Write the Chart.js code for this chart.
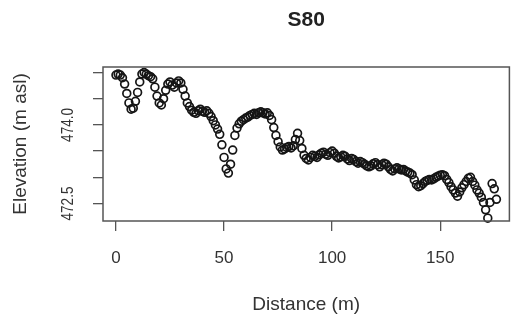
<!DOCTYPE html>
<html>
<head>
<meta charset="utf-8">
<script src="https://cdn.jsdelivr.net/npm/chart.js@4.4.0/dist/chart.umd.min.js"></script>
<style>
html, body { margin: 0; padding: 0; background: #fff; }
</style>
</head>
<body>
<canvas id="chart" width="515" height="324"></canvas>
<script>
// survey profile S80
const distance = [
  0, 1, 2, 3, 4, 5, 6, 7, 8, 9, 10, 11, 12, 13, 14, 15, 16, 17, 18, 19,
  20, 21, 22, 23, 24, 25, 26, 27, 28, 29, 30, 31, 32, 33, 34, 35, 36, 37, 38, 39,
  40, 41, 42, 43, 44, 45, 46, 47, 48, 49, 50, 51, 52, 53, 54, 55, 56, 57, 58, 59,
  60, 61, 62, 63, 64, 65, 66, 67, 68, 69, 70, 71, 72, 73, 74, 75, 76, 77, 78, 79,
  80, 81, 82, 83, 84, 85, 86, 87, 88, 89, 90, 91, 92, 93, 94, 95, 96, 97, 98, 99,
  100, 101, 102, 103, 104, 105, 106, 107, 108, 109, 110, 111, 112, 113, 114, 115, 116, 117, 118, 119,
  120, 121, 122, 123, 124, 125, 126, 127, 128, 129, 130, 131, 132, 133, 134, 135, 136, 137, 138, 139,
  140, 141, 142, 143, 144, 145, 146, 147, 148, 149, 150, 151, 152, 153, 154, 155, 156, 157, 158, 159,
  160, 161, 162, 163, 164, 165, 166, 167, 168, 169, 170, 171, 172, 173, 174, 175, 176
];
const elevation = [
  474.95, 474.97, 474.95, 474.90, 474.78, 474.60, 474.42, 474.30, 474.32, 474.45,
  474.62, 474.82, 474.97, 475.00, 474.97, 474.94, 474.92, 474.88, 474.72, 474.55,
  474.42, 474.38, 474.50, 474.66, 474.78, 474.82, 474.76, 474.72, 474.80, 474.84,
  474.80, 474.68, 474.55, 474.42, 474.35, 474.28, 474.24, 474.22, 474.27, 474.30,
  474.26, 474.24, 474.27, 474.22, 474.16, 474.08, 474.00, 473.92, 473.82, 473.62,
  473.38, 473.16, 473.08, 473.25, 473.52, 473.80, 473.94, 474.02, 474.07, 474.10,
  474.13, 474.15, 474.18, 474.20, 474.22, 474.20, 474.23, 474.25, 474.23, 474.21,
  474.23, 474.18, 474.10, 473.95, 473.80, 473.68, 473.58, 473.52, 473.54, 473.57,
  473.59, 473.56, 473.60, 473.72, 473.84, 473.70, 473.55, 473.42, 473.36, 473.33,
  473.38, 473.42, 473.40, 473.38, 473.43, 473.46, 473.48, 473.44, 473.42, 473.47,
  473.50, 473.46, 473.40, 473.37, 473.39, 473.42, 473.40, 473.35, 473.32, 473.36,
  473.34, 473.30, 473.27, 473.30, 473.28, 473.25, 473.22, 473.20, 473.22, 473.26,
  473.28, 473.24, 473.20, 473.24, 473.27, 473.25, 473.20, 473.15, 473.12, 473.16,
  473.18, 473.16, 473.14, 473.15, 473.12, 473.10, 473.08, 473.05, 472.95, 472.86,
  472.82, 472.84, 472.88, 472.92, 472.94, 472.96, 472.95, 472.97, 473.00, 473.02,
  473.04, 473.05, 473.03, 472.96, 472.90, 472.82, 472.76, 472.70, 472.64, 472.72,
  472.80, 472.86, 472.92, 472.98, 473.00, 472.92, 472.85, 472.76, 472.70, 472.62,
  472.52, 472.38, 472.22, 472.52, 472.88, 472.78, 472.58
];
const xTicks = [0, 50, 100, 150];
const yTicks = [472.5, 473.0, 473.5, 474.0, 474.5, 475.0];
const yLabels = [472.5, 474.0]; // R drops the others (overlap)

const FONT = "'Liberation Sans', Arial, Helvetica, sans-serif";

// box, title and the upright y labels (R style)
const rPlot = {
    id: 'rPlot',
    afterDraw(chart) {
        const ctx = chart.ctx;
        const a = chart.chartArea;
        ctx.save();
        ctx.strokeStyle = '#555';
        ctx.lineWidth = 1.5;
        ctx.strokeRect(a.left, a.top, a.right - a.left, a.bottom - a.top);

        ctx.fillStyle = '#222';
        ctx.font = 'bold 21px ' + FONT;
        ctx.textAlign = 'center';
        ctx.textBaseline = 'alphabetic';
        ctx.fillText('S80', (a.left + a.right) / 2, 26);

        const ys = chart.scales.y;
        ctx.fillStyle = '#333';
        ctx.font = '17px ' + FONT;
        ctx.textBaseline = 'middle';
        yLabels.forEach(v => {
            const py = ys.getPixelForValue(v);
            ctx.save();
            ctx.translate(68, py);
            ctx.rotate(-Math.PI / 2);
            ctx.scale(0.8, 1);
            ctx.fillText(v.toFixed(1), 0, 0);
            ctx.restore();
        });
        ctx.restore();
    }
};

const ctx = document.getElementById('chart').getContext('2d');
const myChart = new Chart(ctx, {
    type: 'scatter',
    data: {
        datasets: [{
            data: distance.map((d, i) => ({ x: d, y: elevation[i] })),
            showLine: false,
            pointStyle: 'circle',
            pointRadius: 3.9,
            pointBorderWidth: 1.7,
            pointBorderColor: '#151515',
            pointBackgroundColor: 'rgba(0,0,0,0)',
            pointHoverRadius: 3.9,
            clip: false
        }]
    },
    options: {
        responsive: false,
        animation: false,
        devicePixelRatio: 1,
        layout: { padding: { top: 67, right: 3, left: 0, bottom: 0 } },
        plugins: {
            legend: { display: false },
            tooltip: { enabled: false }
        },
        scales: {
            x: {
                type: 'linear',
                min: -6,
                max: 182,
                afterBuildTicks: s => { s.ticks = xTicks.map(v => ({ value: v })); },
                afterFit: s => { s.height = 103; },
                ticks: {
                    font: { family: FONT, size: 17 },
                    color: '#333',
                    padding: 17,
                    maxRotation: 0,
                    autoSkip: false
                },
                grid: { drawOnChartArea: false, tickLength: 10, color: '#555', lineWidth: 1.3 },
                border: { display: false },
                title: {
                    display: true,
                    text: 'Distance (m)',
                    color: '#333',
                    font: { family: FONT, size: 19 },
                    padding: { top: 0, bottom: 8 }
                }
            },
            y: {
                type: 'linear',
                min: 472.166,
                max: 475.105,
                afterBuildTicks: s => { s.ticks = yTicks.map(v => ({ value: v })); },
                afterFit: s => { s.width = 103; },
                ticks: {
                    callback: () => '',
                    font: { family: FONT, size: 17 }
                },
                grid: { drawOnChartArea: false, tickLength: 10, color: '#555', lineWidth: 1.3 },
                border: { display: false },
                title: {
                    display: true,
                    text: 'Elevation (m asl)',
                    color: '#333',
                    font: { family: FONT, size: 19 },
                    padding: { top: 9, bottom: 0 }
                }
            }
        }
    },
    plugins: [rPlot]
});
</script>
</body>
</html>
